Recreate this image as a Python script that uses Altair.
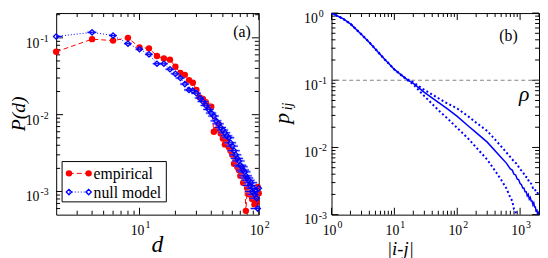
import altair as alt
import pandas as pd

SERIF = "Liberation Serif, Times New Roman, serif"

# ---------------- panel (a) data ----------------
d_vals = [2, 4, 6, 8, 10, 12, 14, 16, 18, 20, 22, 24, 26, 28, 30, 32, 34, 36, 38, 40,
          42, 44, 46, 48, 50, 52, 54, 56, 58, 60, 62, 64, 66, 68, 70, 72, 74, 76, 78, 80,
          82, 84, 86, 88, 90, 92, 94, 96, 98, 100]
emp_P = [0.066, 0.096, 0.092, 0.100, 0.075, 0.073, 0.058, 0.054, 0.052, 0.042,
         0.035, 0.033, 0.028, 0.026, 0.021, 0.0168, 0.016, 0.0145, 0.0128, 0.0127,
         0.0060, 0.0064, 0.0075, 0.0057, 0.0049, 0.0041, 0.0046, 0.0038, 0.0034, 0.0030,
         0.0023, 0.0026, 0.0021, 0.0019, 0.0016, 0.0019, 0.0013, 0.0015, 0.00056, 0.0011,
         0.00093, 0.0012, 0.00090, 0.00080, 0.00095, 0.00068, 0.00080, 0.00072, 0.00115, 0.00095]
null_P = [0.104, 0.118, 0.107, 0.084, 0.071, 0.061, 0.046, 0.046, 0.039, 0.034,
          0.030, 0.025, 0.021, 0.0205, 0.019, 0.0165, 0.0148, 0.0132, 0.0117, 0.0105,
          0.0096, 0.0083, 0.0076, 0.0068, 0.0063, 0.0058, 0.0053, 0.0050, 0.0043, 0.0039,
          0.0034, 0.0030, 0.0027, 0.0025, 0.0022, 0.0021, 0.0019, 0.0018, 0.0016, 0.0015,
          0.0014, 0.0012, 0.0013, 0.0010, 0.0011, 0.00092, 0.0010, 0.00082, 0.00060, 0.0011]
null_xerr = [0.25, 0.35, 0.45, 0.6, 0.75, 0.9, 1.1, 1.3, 1.5, 1.7,
             1.9, 2.1, 2.4, 2.6, 2.8, 3.0, 3.3, 3.5, 3.8, 4.0,
             4.3, 4.6, 4.9, 5.1, 5.4, 5.7, 6.0, 6.3, 6.6, 6.9,
             7.2, 7.5, 7.8, 8.1, 8.4, 8.7, 9.0, 9.3, 9.6, 9.9,
             10.2, 10.5, 10.8, 11.1, 11.4, 11.7, 12.0, 12.3, 12.6, 12.9]

# ---------------- panel (b) data ----------------
sol_x = [1, 1.5, 2, 3, 4, 5, 7, 10, 15, 20, 30, 50, 70, 100, 150, 200, 300, 500, 600,
         700, 750, 800, 850, 900, 950, 1000, 1050, 1100, 1150, 1200, 1250, 1300, 1350,
         1400, 1450, 1500, 1550, 1600, 1650, 1700, 1750, 1800, 1850, 1900, 1950, 2000]
sol_p = [1.0, 0.83, 0.69, 0.48, 0.366, 0.29, 0.205, 0.145, 0.107, 0.090, 0.066, 0.047,
         0.0375, 0.029, 0.0209, 0.0166, 0.0120, 0.0071, 0.0059,
         0.0048, 0.0046, 0.0040, 0.0039, 0.0034, 0.0033, 0.0029, 0.0028, 0.0025, 0.0025,
         0.0022, 0.0022, 0.0019, 0.0020, 0.0017, 0.0018, 0.0016, 0.0016, 0.0014, 0.0015,
         0.0013, 0.0013, 0.0011, 0.0012, 0.0010, 0.0011, 0.00098]
up_x = [1, 1.5, 2, 3, 4, 5, 7, 10, 15, 20, 30, 50, 70, 100, 150, 200, 300, 500, 700,
        800, 900, 1000, 1100, 1200, 1300, 1400, 1500, 1600, 1700, 1800, 1900, 2000]
up_p = [1.0, 0.83, 0.69, 0.48, 0.366, 0.29, 0.205, 0.145, 0.108, 0.093, 0.072, 0.054,
        0.045, 0.038, 0.029, 0.0234, 0.0176, 0.0104, 0.0072,
        0.0062, 0.0056, 0.0047, 0.0044, 0.0037, 0.0036, 0.0030, 0.0029, 0.0025, 0.0025,
        0.0021, 0.0021, 0.0019]
lo_x = [1, 1.5, 2, 3, 4, 5, 7, 10, 15, 20, 30, 50, 70, 100, 150, 200, 300, 400, 500,
        600, 700, 750, 800, 850, 900]
lo_p = [1.0, 0.83, 0.69, 0.48, 0.366, 0.29, 0.205, 0.145, 0.105, 0.087, 0.058, 0.036,
        0.027, 0.0195, 0.0135, 0.0100, 0.0066, 0.0045, 0.0033,
        0.0025, 0.0018, 0.0016, 0.0012, 0.0011, 0.00085]
rho_level = [0.1]

# ---------------- ticks and labels ----------------
a_x_major = [10, 100]
a_x_minor = [3, 4, 5, 6, 7, 8, 9, 20, 30, 40, 50, 60, 70, 80, 90]
a_y_major = [0.001, 0.01, 0.1]
a_y_minor = [0.0006, 0.0007, 0.0008, 0.0009, 0.002, 0.003, 0.004, 0.005, 0.006, 0.007,
             0.008, 0.009, 0.02, 0.03, 0.04, 0.05, 0.06, 0.07, 0.08, 0.09, 0.2]
a_x_lab = [10, 100]
a_x_exp = ["1", "2"]
a_y_lab = [0.001, 0.01, 0.1]
a_y_exp = ["-3", "-2", "-1"]

b_x_major = [1, 10, 100, 1000]
b_x_minor = [2, 3, 4, 5, 6, 7, 8, 9, 20, 30, 40, 50, 60, 70, 80, 90,
             200, 300, 400, 500, 600, 700, 800, 900, 2000]
b_y_major = [0.001, 0.01, 0.1, 1]
b_y_minor = [0.002, 0.003, 0.004, 0.005, 0.006, 0.007, 0.008, 0.009,
             0.02, 0.03, 0.04, 0.05, 0.06, 0.07, 0.08, 0.09,
             0.2, 0.3, 0.4, 0.5, 0.6, 0.7, 0.8, 0.9]
b_x_lab = [1, 10, 100, 1000]
b_x_exp = ["0", "1", "2", "3"]
b_y_lab = [0.001, 0.01, 0.1, 1]
b_y_exp = ["-3", "-2", "-1", "0"]

legend_names = ["empirical", "null model"]

WA, WB, H = 206, 211, 205
AX = alt.Scale(type="log", domain=[2, 100], nice=False)
AY = alt.Scale(type="log", domain=[5e-4, 0.21], nice=False)
BX = alt.Scale(type="log", domain=[1, 2000], nice=False)
BY = alt.Scale(type="log", domain=[1e-3, 1], nice=False)

one = pd.DataFrame({"k": [0]})


def tick_layers(sx, sy, xmaj, xmin, ymaj, ymin, W, H, LM=7, Lm=4):
    out = []
    for vals, L in ((xmaj, LM), (xmin, Lm)):
        c = alt.Chart(pd.DataFrame({"v": vals}))
        xe = alt.X("v:Q", scale=sx, axis=None)
        out.append(c.mark_rule(color="black", strokeWidth=1).encode(x=xe, y=alt.value(H), y2=alt.value(H - L)))
        out.append(c.mark_rule(color="black", strokeWidth=1).encode(x=xe, y=alt.value(0), y2=alt.value(L)))
    for vals, L in ((ymaj, LM), (ymin, Lm)):
        c = alt.Chart(pd.DataFrame({"v": vals}))
        ye = alt.Y("v:Q", scale=sy, axis=None)
        out.append(c.mark_rule(color="black", strokeWidth=1).encode(y=ye, x=alt.value(0), x2=alt.value(L)))
        out.append(c.mark_rule(color="black", strokeWidth=1).encode(y=ye, x=alt.value(W), x2=alt.value(W - L)))
    return out


def x_labels(sx, vals, exps, H):
    c = alt.Chart(pd.DataFrame({"v": vals, "b": ["10"] * len(vals), "e": exps}))
    xe = alt.X("v:Q", scale=sx, axis=None)
    t1 = c.mark_text(font=SERIF, fontSize=14, align="right", baseline="alphabetic", dx=5,
                     color="black").encode(x=xe, y=alt.value(H + 21), text="b:N")
    t2 = c.mark_text(font=SERIF, fontSize=10, align="left", baseline="alphabetic", dx=6,
                     color="black").encode(x=xe, y=alt.value(H + 14), text="e:N")
    return [t1, t2]


def y_labels(sy, vals, exps, xr):
    c = alt.Chart(pd.DataFrame({"v": vals, "b": ["10"] * len(vals), "e": exps}))
    ye = alt.Y("v:Q", scale=sy, axis=None)
    t1 = c.mark_text(font=SERIF, fontSize=14, align="right", baseline="alphabetic", dy=10,
                     color="black").encode(y=ye, x=alt.value(xr), text="b:N")
    t2 = c.mark_text(font=SERIF, fontSize=10, align="left", baseline="alphabetic", dy=4,
                     color="black").encode(y=ye, x=alt.value(xr + 1), text="e:N")
    return [t1, t2]


def txt(s, x, y, size, italic=False, angle=0, align="center", baseline="middle"):
    kw = dict(text=s, font=SERIF, fontSize=size, align=align, baseline=baseline, color="black")
    if italic:
        kw["fontStyle"] = "italic"
    if angle:
        kw["angle"] = angle
    return alt.Chart(one).mark_text(**kw).encode(x=alt.value(x), y=alt.value(y))


# ---------------- panel (a) ----------------
dfa = pd.DataFrame({"d": d_vals, "emp": emp_P, "null": null_P, "xerr": null_xerr})
dfa["lo"] = dfa["d"] - dfa["xerr"]
dfa["hi"] = dfa["d"] + dfa["xerr"]
ba = alt.Chart(dfa)
XA = alt.X("d:Q", scale=AX, axis=None)
RED, BLUE = "#ff0000", "#0000ff"

emp_line = ba.mark_line(color=RED, strokeDash=[5, 3], strokeWidth=1, clip=True).encode(
    x=XA, y=alt.Y("emp:Q", scale=AY, axis=None))
emp_pts = ba.mark_circle(color=RED, size=42, opacity=1).encode(
    x=XA, y=alt.Y("emp:Q", scale=AY, axis=None))
null_glow = ba.mark_rule(color="#8888ff", strokeWidth=3, opacity=0.45, clip=True).encode(
    x=alt.X("lo:Q", scale=AX, axis=None), x2="hi:Q", y=alt.Y("null:Q", scale=AY, axis=None))
null_err = ba.mark_rule(color=BLUE, strokeWidth=1, clip=True).encode(
    x=alt.X("lo:Q", scale=AX, axis=None), x2="hi:Q", y=alt.Y("null:Q", scale=AY, axis=None))
null_line = ba.mark_line(color=BLUE, strokeDash=[1, 2], strokeWidth=1, clip=True).encode(
    x=XA, y=alt.Y("null:Q", scale=AY, axis=None))
null_pts = ba.mark_point(shape="diamond", color=BLUE, filled=False, size=30, strokeWidth=1.3,
                         opacity=1).encode(x=XA, y=alt.Y("null:Q", scale=AY, axis=None))

leg_box = alt.Chart(one).mark_rect(fill="white", stroke="black", strokeWidth=1).encode(
    x=alt.value(6), x2=alt.value(112), y=alt.value(151), y2=alt.value(192))
leg = [leg_box]
for i, (name, col) in enumerate(zip(legend_names, [RED, BLUE])):
    yy = 163 + 19 * i
    dash = [5, 3] if i == 0 else [1, 2]
    leg.append(alt.Chart(one).mark_rule(color=col, strokeDash=dash, strokeWidth=1).encode(
        x=alt.value(13), x2=alt.value(33), y=alt.value(yy)))
    for xx in (13, 33):
        if i == 0:
            leg.append(alt.Chart(one).mark_circle(color=col, size=42, opacity=1).encode(
                x=alt.value(xx), y=alt.value(yy)))
        else:
            leg.append(alt.Chart(one).mark_point(shape="diamond", color=col, filled=False, size=30,
                                                 strokeWidth=1.3, opacity=1).encode(
                x=alt.value(xx), y=alt.value(yy)))
    leg.append(txt(name, 38, yy + 1, 16, align="left"))

panel_a = alt.layer(
    *tick_layers(AX, AY, a_x_major, a_x_minor, a_y_major, a_y_minor, WA, H),
    emp_line, emp_pts, null_glow, null_err, null_line, null_pts,
    *leg,
    *x_labels(AX, a_x_lab, a_x_exp, H),
    *y_labels(AY, a_y_lab, a_y_exp, -17),
    txt("P(d)", -38, H / 2, 20, italic=True, angle=270),
    txt("d", WA / 2, H + 38, 24, italic=True, baseline="alphabetic"),
    txt("(a)", 189, 19, 16),
).properties(width=WA, height=H)

# ---------------- panel (b) ----------------
XB = alt.X("x:Q", scale=BX, axis=None)
YB = alt.Y("p:Q", scale=BY, axis=None)
rho_line = alt.Chart(pd.DataFrame({"p": rho_level})).mark_rule(
    color="#808080", strokeDash=[4, 3], strokeWidth=1).encode(y=YB)
up_line = alt.Chart(pd.DataFrame({"x": up_x, "p": up_p})).mark_line(
    color=BLUE, strokeDash=[2, 2.5], strokeWidth=2, clip=True).encode(x=XB, y=YB)
lo_line = alt.Chart(pd.DataFrame({"x": lo_x, "p": lo_p})).mark_line(
    color=BLUE, strokeDash=[2, 2.5], strokeWidth=2, clip=True).encode(x=XB, y=YB)
sol_line = alt.Chart(pd.DataFrame({"x": sol_x, "p": sol_p})).mark_line(
    color=BLUE, strokeWidth=1.5, clip=True).encode(x=XB, y=YB)

panel_b = alt.layer(
    *tick_layers(BX, BY, b_x_major, b_x_minor, b_y_major, b_y_minor, WB, H),
    rho_line, up_line, lo_line, sol_line,
    *x_labels(BX, b_x_lab, b_x_exp, H),
    *y_labels(BY, b_y_lab, b_y_exp, -14),
    txt("p", -50, 107, 22, italic=True, angle=270),
    txt("ij", -44, 95, 14, italic=True, angle=270),
    txt("|i-j|", 70, H + 41, 19, italic=True, baseline="alphabetic"),
    txt("(b)", 180, 23, 16),
    txt("ρ", 196, 82, 22, italic=True),
).properties(width=WB, height=H)

chart = alt.hconcat(panel_a, panel_b, spacing=74, bounds="flush").properties(
    padding={"left": 0, "top": -2, "right": 0, "bottom": 0}
).configure_view(stroke="black", strokeWidth=1)

chart.save("out.html", embed_options={"renderer": "svg", "actions": False})
